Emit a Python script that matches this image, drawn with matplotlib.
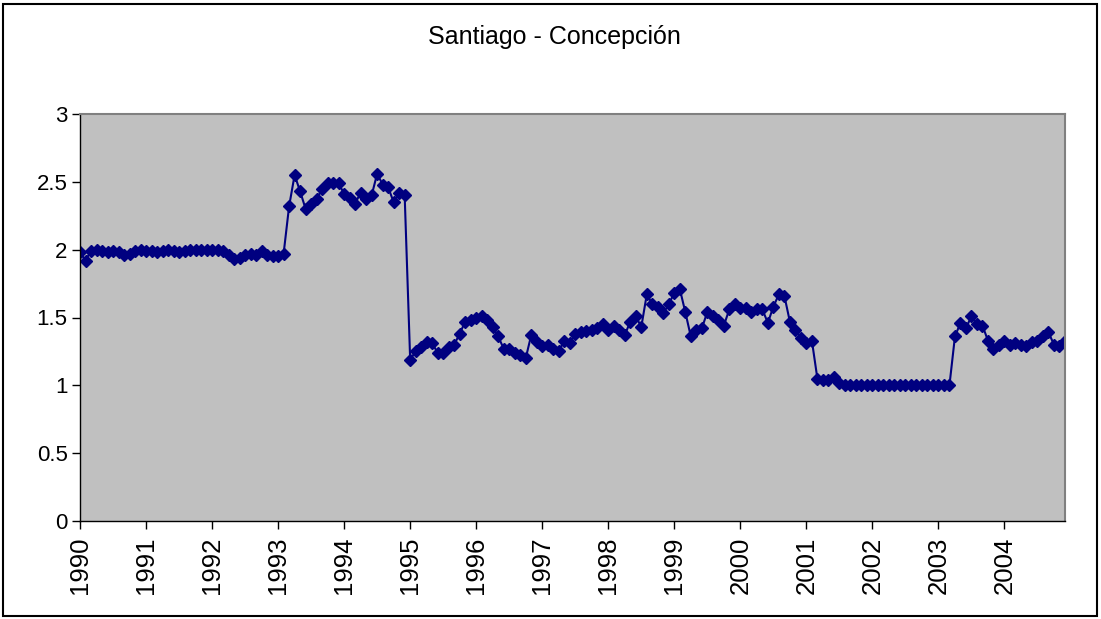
import matplotlib.pyplot as plt
import numpy as np
from matplotlib.patches import Rectangle

# Monthly ratio Santiago / Concepción, Jan 1990 - Dec 2004
years = [str(y) for y in range(1990, 2005)]

ratio = [
    1.98, 1.92, 1.99, 2.00, 1.99, 1.98, 1.99, 1.98, 1.96, 1.97, 1.99, 2.00,  # 1990
    1.99, 1.99, 1.98, 1.99, 2.00, 1.99, 1.98, 1.99, 2.00, 2.00, 2.00, 2.00,  # 1991
    2.00, 2.00, 1.99, 1.96, 1.93, 1.94, 1.96, 1.97, 1.96, 1.99, 1.96, 1.95,  # 1992
    1.95, 1.97, 2.32, 2.55, 2.43, 2.30, 2.34, 2.37, 2.45, 2.49, 2.49, 2.49,  # 1993
    2.41, 2.38, 2.34, 2.42, 2.37, 2.40, 2.56, 2.48, 2.46, 2.35, 2.42, 2.40,  # 1994
    1.19, 1.25, 1.28, 1.32, 1.31, 1.24, 1.24, 1.28, 1.30, 1.38, 1.47, 1.48,  # 1995
    1.50, 1.51, 1.48, 1.43, 1.36, 1.27, 1.27, 1.24, 1.22, 1.20, 1.37, 1.32,  # 1996
    1.29, 1.30, 1.27, 1.25, 1.33, 1.31, 1.38, 1.39, 1.40, 1.41, 1.42, 1.45,  # 1997
    1.41, 1.44, 1.41, 1.37, 1.47, 1.51, 1.43, 1.67, 1.60, 1.58, 1.53, 1.60,  # 1998
    1.68, 1.71, 1.54, 1.36, 1.41, 1.42, 1.54, 1.51, 1.48, 1.44, 1.56, 1.60,  # 1999
    1.57, 1.57, 1.54, 1.56, 1.56, 1.46, 1.58, 1.67, 1.66, 1.47, 1.41, 1.35,  # 2000
    1.31, 1.33, 1.05, 1.04, 1.04, 1.06, 1.02, 1.00, 1.00, 1.00, 1.00, 1.00,  # 2001
    1.00, 1.00, 1.00, 1.00, 1.00, 1.00, 1.00, 1.00, 1.00, 1.00, 1.00, 1.00,  # 2002
    1.00, 1.00, 1.00, 1.36, 1.46, 1.42, 1.51, 1.45, 1.44, 1.33, 1.27, 1.30,  # 2003
    1.33, 1.30, 1.31, 1.30, 1.29, 1.32, 1.33, 1.36, 1.39, 1.30, 1.29, 1.33,  # 2004
]

y_ticks = [0, 0.5, 1, 1.5, 2, 2.5, 3]
y_labels = ["0", "0.5", "1", "1.5", "2", "2.5", "3"]

plt.rcParams["font.family"] = ["Liberation Sans", "DejaVu Sans"]

fig = plt.figure(figsize=(11.01, 6.19), dpi=100)
ax = fig.add_axes([80 / 1101, 98 / 619, 985 / 1101, 407 / 619])

# -----------------------------------------------------------
# Series
# -----------------------------------------------------------
x = np.arange(len(ratio))
ax.plot(x, ratio, color="#000080", linewidth=1.5, marker="D",
        markersize=6.3, markerfacecolor="#000080", markeredgecolor="#000080")

ax.set_facecolor("#C0C0C0")
ax.set_xlim(0, len(ratio) - 1)
ax.set_ylim(0, 3)

ax.set_yticks(y_ticks)
ax.set_yticklabels(y_labels, fontsize=16)
ax.set_xticks(np.arange(0, len(ratio), 12))
ax.set_xticklabels(years, rotation=90, fontsize=18.5)
ax.tick_params(axis="both", direction="out", length=6, width=1, color="black")
ax.tick_params(axis="y", pad=3)
ax.tick_params(axis="x", pad=5)

for side in ["left", "bottom"]:
    ax.spines[side].set_color("black")
    ax.spines[side].set_linewidth(1)
for side in ["top", "right"]:
    ax.spines[side].set_color("#808080")
    ax.spines[side].set_linewidth(1.5)

fig.text(554 / 1101, 1 - 37 / 619, "Santiago - Concepción", ha="center", va="center", fontsize=18)

# Outer chart frame
fig.patches.append(Rectangle((3 / 1101, 3 / 619), 1094 / 1101, 612 / 619, transform=fig.transFigure,
                             fill=False, edgecolor="black", linewidth=1.5))

fig.savefig("out.png", dpi=100)
